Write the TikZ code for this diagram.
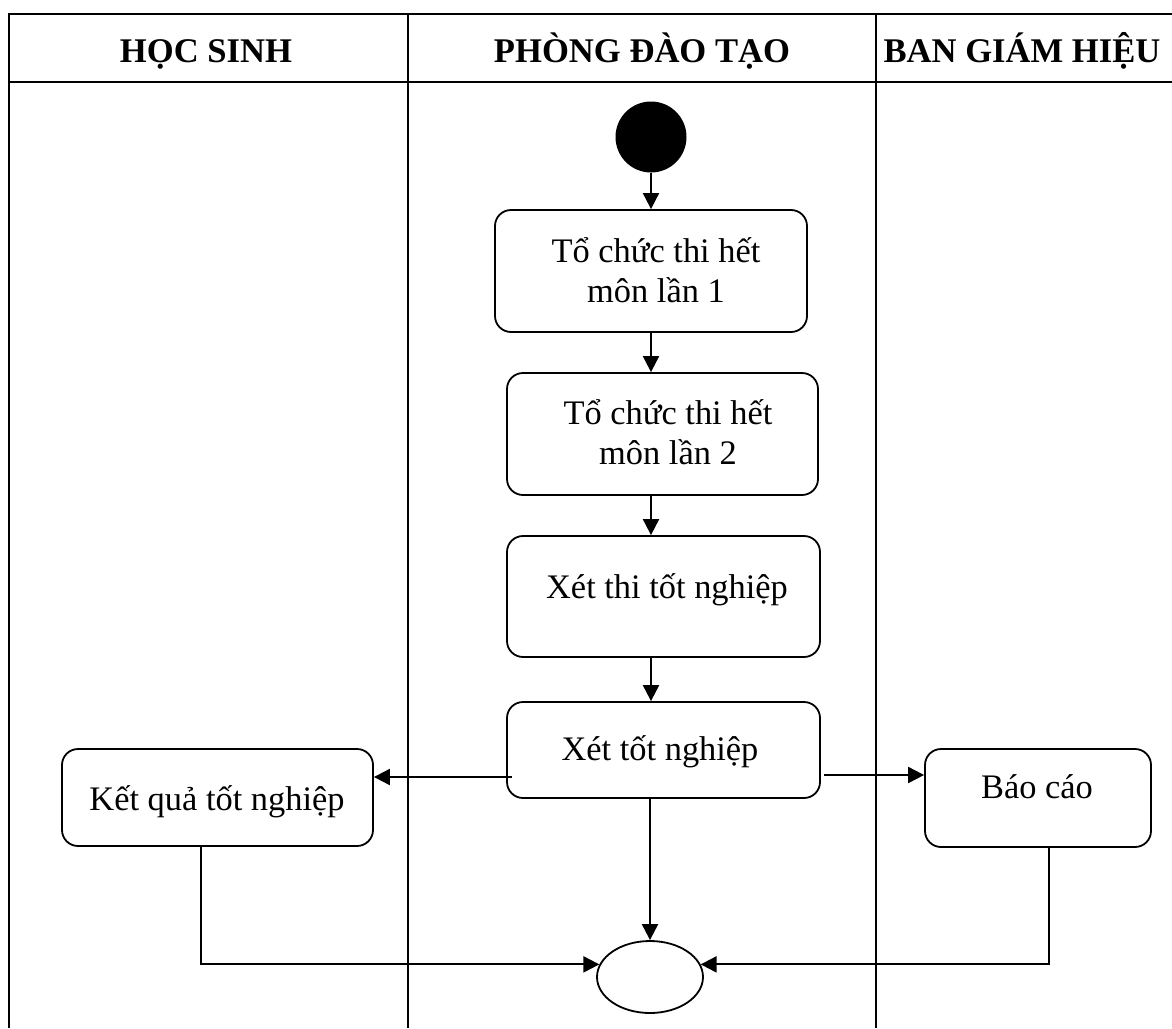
\documentclass[tikz,border=0pt]{standalone}
\usepackage{fontspec}
\setmainfont{Liberation Serif}
\usetikzlibrary{arrows.meta,shapes.geometric,calc}
\begin{document}
\begin{tikzpicture}[x=0.5pt,y=-0.5pt,
  lane/.style={line width=1.35pt},
  box/.style={draw, line width=0.9pt, rounded corners=8pt, inner sep=0pt},
  lbl/.style={font=\fontsize{17.2}{20}\selectfont, align=center, inner sep=0pt},
  hdr/.style={font=\fontsize{17.3}{20}\selectfont\bfseries, inner sep=0pt, anchor=base},
  arr/.style={line width=1pt, -{Triangle[length=8pt,width=8pt]}}]
\useasboundingbox (0,0) rectangle (1172,1028);
% swimlanes
\draw[lane] (9,1028) -- (9,14) -- (1172,14);
\draw[lane] (9,82) -- (1172,82);
\draw[lane] (408,14) -- (408,1028);
\draw[lane] (876,14) -- (876,1028);
\node[hdr] (h1) at (206,62) {HỌC SINH};
\node[hdr] (h2) at (642,62) {PHÒNG ĐÀO TẠO};
\node[hdr] (h3) at (1022,62) {BAN GIÁM HIỆU};
% nodes
\node[circle, fill=black, minimum size=35.5pt, inner sep=0pt] (s) at (651,137) {};
\node[box, minimum width=156pt, minimum height=61pt] (b1) at (651,271) {};
\node[lbl] (t1) at (656,270) {Tổ chức thi hết\\môn lần 1};
\node[box, minimum width=155.5pt, minimum height=61pt] (b2) at (662.5,434) {};
\node[lbl] (t2) at (668,432) {Tổ chức thi hết\\môn lần 2};
\node[box, minimum width=156.5pt, minimum height=60.5pt] (b3) at (663.5,596.5) {};
\node[lbl] (t3) at (667,590) {Xét thi tốt nghiệp};
\node[box, minimum width=156.5pt, minimum height=48pt] (b4) at (663.5,750) {};
\node[lbl] (t4) at (660,752) {Xét tốt nghiệp};
\node[box, minimum width=155.5pt, minimum height=48.5pt] (k) at (217.5,797.5) {};
\node[lbl] (tk) at (217,802) {Kết quả tốt nghiệp};
\node[box, minimum width=113pt, minimum height=49pt] (bc) at (1038,798) {};
\node[lbl] (tbc) at (1037,787) {Báo cáo};
\node[ellipse, draw, line width=0.9pt, minimum width=53pt, minimum height=36pt, inner sep=0pt] (e) at (650,977) {};
% connectors
\draw[arr] (s.south) -- (b1.north);
\draw[arr] (b1.south) -- (b1.south |- b2.north);
\draw[arr] (b2.south -| b1.south) -- (b3.north -| b1.south);
\draw[arr] (b3.south -| b1.south) -- (b4.north -| b1.south);
\draw[arr] (b4.south -| e.north) -- (e.north);
\coordinate (lk) at ($(b4.west)+(6,27)$);
\draw[arr] (lk) -- (lk -| k.east);
\coordinate (rb) at ($(b4.east)+(3,25)$);
\draw[arr] (rb) -- (rb -| bc.west);
\draw[arr] ($(k.south)+(-17,0)$) |- (e.166);
\draw[arr] ($(bc.south)+(11,0)$) |- (e.14);
\end{tikzpicture}
\end{document}
